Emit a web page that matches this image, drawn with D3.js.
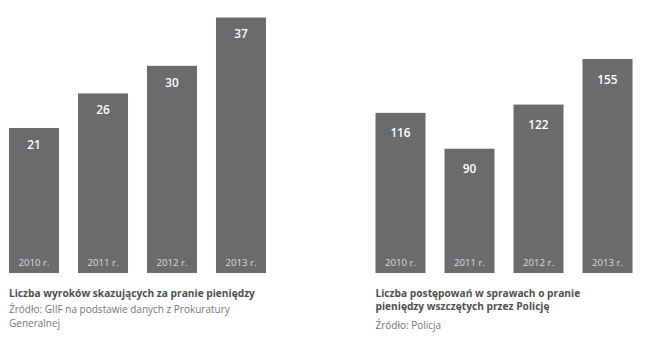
<!DOCTYPE html>
<html>
<head>
<meta charset="utf-8">
<script src="https://cdn.jsdelivr.net/npm/d3@7"></script>
<style>
  html, body { margin: 0; padding: 0; background: #fff; }
  svg { display: block; }
  text { font-family: "Open Sans", "Noto Sans", sans-serif; }
</style>
</head>
<body>
<svg id="chart" width="650" height="343"></svg>
<script>
// Data
const years = ["2010 r.", "2011 r.", "2012 r.", "2013 r."];
const convictions = [21, 26, 30, 37];
const proceedings = [116, 90, 122, 155];

const leftTitle = ["Liczba wyroków skazujących za pranie pieniędzy"];
const leftSource = ["Źródło: GIIF na podstawie danych z Prokuratury", "Generalnej"];
const rightTitle = ["Liczba postępowań w sprawach o pranie", "pieniędzy wszczętych przez Policję"];
const rightSource = ["Źródło: Policja"];

const svg = d3.select("#chart");
const barColor = "#6a6b6d";
const baseY = 273;

function panel(cfg) {
  const g = svg.append("g");
  const x = d3.scaleBand()
    .domain(years)
    .range([cfg.x0, cfg.x1])
    .paddingInner(0.275)
    .paddingOuter(0);
  const y = d3.scaleLinear()
    .domain([0, cfg.max])
    .range([baseY, cfg.top]);

  const data = years.map((yr, i) => ({ yr, v: cfg.values[i] }));

  g.selectAll("rect.bar").data(data).join("rect")
    .attr("class", "bar")
    .attr("x", d => x(d.yr))
    .attr("y", d => y(d.v))
    .attr("width", x.bandwidth())
    .attr("height", d => y(0) - y(d.v))
    .attr("fill", barColor);

  g.selectAll("text.val").data(data).join("text")
    .attr("class", "val")
    .attr("x", d => x(d.yr) + x.bandwidth() / 2)
    .attr("y", d => y(d.v) + cfg.labelOffset)
    .attr("text-anchor", "middle")
    .attr("dominant-baseline", "central")
    .attr("fill", "#ffffff")
    .attr("font-size", 11.8)
    .attr("font-weight", 600)
    .text(d => d.v);

  g.selectAll("text.yr").data(data).join("text")
    .attr("class", "yr")
    .attr("x", d => x(d.yr) + x.bandwidth() / 2)
    .attr("y", 262.5)
    .attr("text-anchor", "middle")
    .attr("dominant-baseline", "central")
    .attr("fill", "#dcdcdc")
    .attr("font-size", 9.6)
    .text(d => d.yr);

  let ty = 293;
  cfg.title.forEach(line => {
    g.append("text")
      .attr("x", cfg.x0)
      .attr("y", ty)
      .attr("dominant-baseline", "central")
      .attr("fill", "#4f4f4f")
      .attr("font-size", 10.2)
      .attr("font-weight", 700)
      .text(line);
    ty += 13.3;
  });
  ty += cfg.sourceGap;
  cfg.source.forEach(line => {
    g.append("text")
      .attr("x", cfg.x0)
      .attr("y", ty)
      .attr("dominant-baseline", "central")
      .attr("fill", "#767676")
      .attr("font-size", 10)
      .text(line);
    ty += 14;
  });
}

panel({
  values: convictions, max: 37, top: 17.5,
  x0: 9, x1: 266, labelOffset: 15.8,
  title: leftTitle, source: leftSource, sourceGap: 2.2
});

panel({
  values: proceedings, max: 155, top: 59,
  x0: 375.5, x1: 632.5, labelOffset: 19.5,
  title: rightTitle, source: rightSource, sourceGap: 4.9
});
</script>
</body>
</html>
